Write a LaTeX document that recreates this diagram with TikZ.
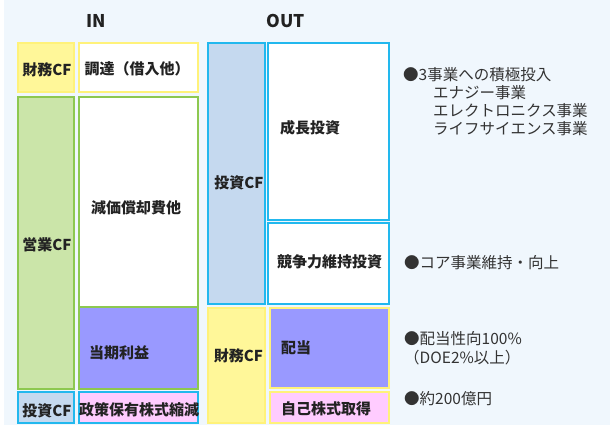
\documentclass[tikz,border=0pt]{standalone}
\usepackage{fontspec}
\setmainfont{Noto Sans CJK JP}
\definecolor{bgc}{HTML}{F0F7FD}
\definecolor{yfill}{HTML}{FFF799}
\definecolor{yline}{HTML}{FFF27A}
\definecolor{gfill}{HTML}{CBE5A9}
\definecolor{gline}{HTML}{8DC850}
\definecolor{bfill}{HTML}{C5D9EF}
\definecolor{bline}{HTML}{22B8EE}
\definecolor{pfill}{HTML}{9999FF}
\definecolor{kfill}{HTML}{FFCCFF}
\definecolor{txt}{HTML}{222222}
\definecolor{rtxt}{HTML}{333333}
\newcommand\cfbox[7]{\node[cfrect,draw=#2,fill=#3,minimum width={#6-#4-2},minimum height={#7-#5-2}] (#1) at ({(#4+#6)/2},{(#5+#7)/2}) {};}
\tikzset{
  cfrect/.style={rectangle,line width=2pt,inner sep=0pt,outer sep=0pt},
  lbl/.style={font=\bfseries\fontsize{15}{18}\selectfont,text=txt,inner sep=0pt},
  head/.style={font=\bfseries\fontsize{17.5}{20}\selectfont,text=txt,inner sep=0pt},
  note/.style={font=\fontsize{15.5}{18}\selectfont,text=rtxt,inner sep=0pt,anchor=west}
}
\begin{document}
\begin{tikzpicture}[x=1pt,y=-1pt]
\useasboundingbox (0,0) rectangle (610,428);
\fill[bgc] (4,0) rectangle (610,425);
% headings
\node[head] (hin) at (96,21) {IN};
\node[head] (hout) at (286,21) {OUT};
% IN column
\cfbox{fina}{yline}{yfill}{17}{42}{75}{93}
\cfbox{chot}{yline}{white}{78}{42}{199}{93}
\cfbox{eigy}{gline}{gfill}{17}{96}{75}{390}
\cfbox{genk}{gline}{white}{78}{96}{199}{308}
\cfbox{toki}{gline}{pfill}{78}{306}{199}{390}
\cfbox{tosa}{bline}{bfill}{17}{391}{75}{424}
\cfbox{seis}{bline}{kfill}{78}{391}{199}{424}
% OUT column
\cfbox{tosb}{bline}{bfill}{207}{42}{266}{305}
\cfbox{seic}{bline}{white}{267}{42}{390}{221}
\cfbox{kyos}{bline}{white}{267}{222}{390}{305}
\cfbox{finb}{yline}{yfill}{207}{307}{266}{424}
\cfbox{hait}{yline}{pfill}{269}{307}{390}{389}
\cfbox{jiko}{yline}{kfill}{269}{391}{390}{424}
% labels
\node[lbl] (lfina) at (47,70) {財務CF};
\node[lbl] (lchot) at (137,69) {調達（借入他）};
\node[lbl] (leigy) at (47,245) {営業CF};
\node[lbl] (lgenk) at (136,208) {減価償却費他};
\node[lbl,anchor=west] (ltoki) at (89,353) {当期利益};
\node[lbl] (ltosa) at (47,411) {投資CF};
\node[lbl] (lseis) at (139,410) {政策保有株式縮減};
\node[lbl] (ltosb) at (239,183) {投資CF};
\node[lbl,anchor=west] (lseic) at (280,128) {成長投資};
\node[lbl] (lkyos) at (329.5,262) {競争力維持投資};
\node[lbl] (lfinb) at (238.5,356) {財務CF};
\node[lbl,anchor=west] (lhait) at (281,348) {配当};
\node[lbl,anchor=west] (ljiko) at (281,409) {自己株式取得};
% notes
\node[note] (n1) at (403,75) {●3事業への積極投入};
\node[note] (n1a) at (433,93) {エナジー事業};
\node[note] (n1b) at (433,111) {エレクトロニクス事業};
\node[note] (n1c) at (433,129) {ライフサイエンス事業};
\node[note] (n2) at (404,263) {●コア事業維持・向上};
\node[note] (n3) at (404,339) {●配当性向100\%};
\node[note] (n3a) at (404,358) {（DOE2\%以上）};
\node[note] (n4) at (404,399) {●約200億円};
\end{tikzpicture}
\end{document}
